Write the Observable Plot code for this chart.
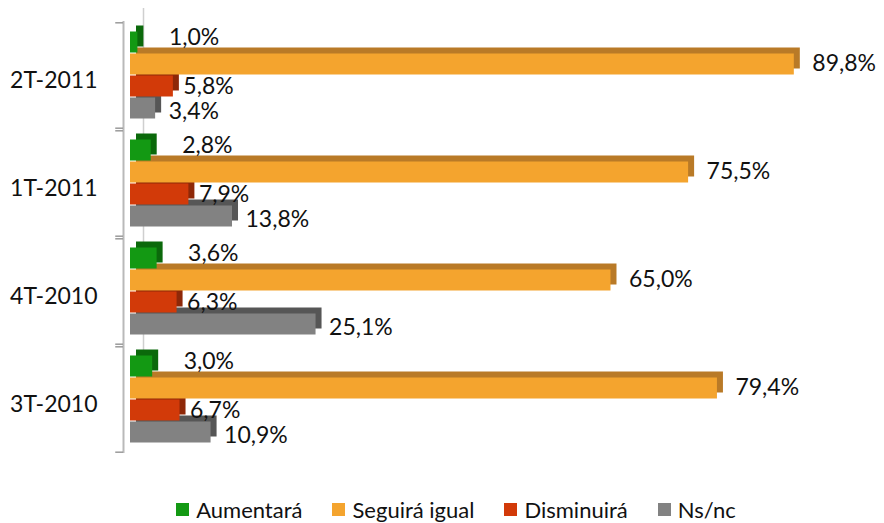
<!DOCTYPE html>
<html>
<head>
<meta charset="utf-8">
<script src="https://cdn.jsdelivr.net/npm/d3@7"></script>
<script src="https://cdn.jsdelivr.net/npm/@observablehq/plot@0.6"></script>
<style>
  html, body { margin: 0; padding: 0; background: #fff; }
  body { width: 884px; height: 523px; overflow: hidden; font-family: Lato, "Open Sans", sans-serif; }
  #legend { display: flex; justify-content: center; align-items: center; gap: 30px; margin-top: 26px; font-size: 22px; line-height: 27px; color: #111; padding-left: 28px; }
  #legend .item { display: flex; align-items: center; gap: 7px; }
  #legend .sw { width: 13px; height: 13px; display: inline-block; }
</style>
</head>
<body>
<div id="chart"></div>
<div id="legend"></div>
<script>
const categories = ["2T-2011", "1T-2011", "4T-2010", "3T-2010"];
const series = ["Aumentará", "Seguirá igual", "Disminuirá", "Ns/nc"];
const aumentara = [1.0, 2.8, 3.6, 3.0];
const seguiraIgual = [89.8, 75.5, 65.0, 79.4];
const disminuira = [5.8, 7.9, 6.3, 6.7];
const nsnc = [3.4, 13.8, 25.1, 10.9];
const frontColors = ["#139913", "#F4A42E", "#D23A09", "#828282"];
const sideColors = ["#0B690B", "#B97A27", "#8E2808", "#565656"];

const valuesBySeries = [aumentara, seguiraIgual, disminuira, nsnc];
const data = [];
series.forEach((s, si) => categories.forEach((c, ci) => data.push({cat: c, series: s, value: valuesBySeries[si][ci]})));
const fmt = v => v.toFixed(1).replace(".", ",") + "%";

const labelDx = [31, 18, 10, 13];
const labelDy = [-5, -1, 0, 3];

const marks = [];
// back wall edge
marks.push(Plot.ruleX([0], {dx: 13, dy: -13, stroke: "#cfcfcf", strokeWidth: 1.5}));
// bars, drawn bottom series first so upper bars sit in front
for (let si = series.length - 1; si >= 0; si--) {
  const sub = data.filter(d => d.series === series[si]);
  marks.push(Plot.rectX(sub, {x: "value", y: "series", fy: "cat", fill: sideColors[si], dx: 6, dy: -6, insetTop: 0.5, insetBottom: 0.5}));
  marks.push(Plot.rectX(sub, {x: "value", y: "series", fy: "cat", fill: frontColors[si], insetTop: 0.5, insetBottom: 0.5}));
}
// front wall line and ticks
marks.push(Plot.ruleX([0], {dx: -7, stroke: "#b9b9b9", strokeWidth: 2}));
marks.push(Plot.ruleY([series[0]], {x1: -1.05, x2: 0, dx: -7, dy: -19.7, stroke: "#9a9a9a", strokeWidth: 1.5}));
marks.push(Plot.ruleY([series[3]], {x1: -1.05, x2: 0, dx: -7, dy: 19.7, stroke: "#9a9a9a", strokeWidth: 1.5}));
// labels
series.forEach((s, si) => {
  const sub = data.filter(d => d.series === s);
  marks.push(Plot.text(sub, {x: "value", y: "series", fy: "cat", text: d => fmt(d.value), textAnchor: "start", dx: labelDx[si], dy: labelDy[si], fontSize: 23, fill: "#111"}));
});
marks.push(Plot.axisFy({anchor: "left", tickSize: 0, tickPadding: 33, fontSize: 23, dy: 5, label: null, fill: "#111"}));

const chart = Plot.plot({
  width: 884,
  height: 470,
  marginLeft: 130,
  marginRight: 0,
  marginTop: 20,
  marginBottom: 17,
  style: {fontFamily: "Lato, 'Open Sans', sans-serif", background: "#fff", overflow: "visible"},
  x: {domain: [0, 102], axis: null},
  y: {domain: series, paddingInner: 0, paddingOuter: 0.35, axis: null},
  fy: {domain: categories, padding: 0, axis: null, label: null},
  marks
});
document.getElementById("chart").appendChild(chart);

const legend = document.getElementById("legend");
series.forEach((s, si) => {
  const item = document.createElement("div");
  item.className = "item";
  const sw = document.createElement("span");
  sw.className = "sw";
  sw.style.background = frontColors[si];
  const t = document.createElement("span");
  t.textContent = s;
  item.appendChild(sw);
  item.appendChild(t);
  legend.appendChild(item);
});
</script>
</body>
</html>
